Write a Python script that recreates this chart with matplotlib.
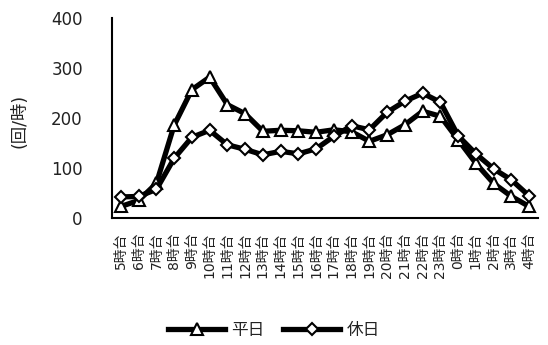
import matplotlib
matplotlib.use("Agg")
import matplotlib.pyplot as plt

plt.rcParams['font.family'] = ['DejaVu Sans', 'Noto Sans CJK JP']

hours = ["5時台", "6時台", "7時台", "8時台", "9時台", "10時台", "11時台", "12時台",
         "13時台", "14時台", "15時台", "16時台", "17時台", "18時台", "19時台", "20時台",
         "21時台", "22時台", "23時台", "0時台", "1時台", "2時台", "3時台", "4時台"]
weekday = [24, 36, 70, 186, 257, 282, 227, 209, 174, 176, 175, 172,
           177, 173, 154, 167, 187, 214, 204, 157, 110, 70, 44, 24]
holiday = [43, 44, 58, 120, 162, 176, 147, 138, 127, 134, 129, 139,
           164, 185, 177, 212, 234, 250, 232, 165, 129, 99, 77, 45]
yticks = [0, 100, 200, 300, 400]

fig = plt.figure(figsize=(5.48, 3.45), dpi=100)
ax = fig.add_axes([0.2044, 0.3667, 0.7774, 0.5811])

x = list(range(len(hours)))
ax.plot(x, weekday, color='black', lw=3.8, marker='^', markersize=9,
        markerfacecolor='white', markeredgecolor='black', markeredgewidth=1.5,
        label='平日', zorder=3)
ax.plot(x, holiday, color='black', lw=3.8, marker='D', markersize=6.5,
        markerfacecolor='white', markeredgecolor='black', markeredgewidth=1.5,
        label='休日', zorder=4)

ax.set_xlim(-0.5, len(hours) - 0.5)
ax.set_ylim(0, 400)
ax.set_yticks(yticks)
ax.set_xticks(x)
ax.set_xticklabels(hours, rotation=90, fontsize=10)
ax.tick_params(axis='y', length=0, pad=21, labelsize=12, labelcolor='#222222')
ax.tick_params(axis='x', length=0, pad=10, labelcolor='#222222')

for side in ('top', 'right'):
    ax.spines[side].set_visible(False)
for side in ('left', 'bottom'):
    ax.spines[side].set_linewidth(1.5)
    ax.spines[side].set_color('black')

fig.text(20 / 548, 1 - 121 / 345, '(回/時)', rotation=90, fontsize=12.5,
         ha='center', va='center', color='#222222')

fig.legend(loc='center', bbox_to_anchor=(0.5, 1 - 330 / 345), ncol=2,
           frameon=False, fontsize=12, handlelength=3.4, handletextpad=0.4,
           columnspacing=1.1, labelcolor='#222222')

fig.savefig('out.png', dpi=100)
